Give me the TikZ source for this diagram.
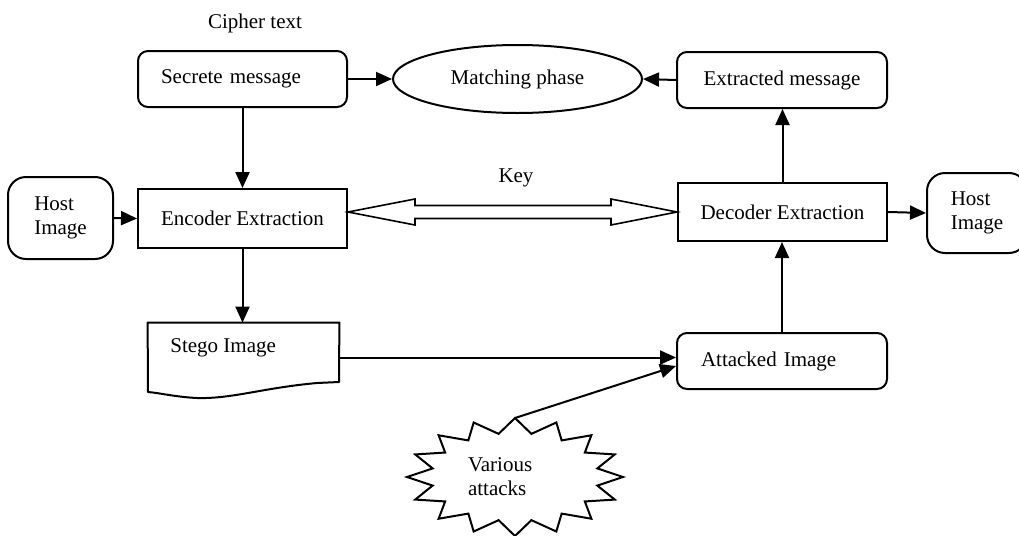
\documentclass[tikz,border=0pt]{standalone}
\usepackage{fontspec}
\setmainfont{Liberation Serif}
\usetikzlibrary{arrows.meta,calc,shapes.geometric}
\tikzset{
  every node/.style={font=\fontsize{10.5pt}{12pt}\selectfont, inner sep=0pt},
  rbox/.style={draw, line width=1pt, rounded corners=5pt, align=center},
  sbox/.style={draw, line width=1pt, align=center},
  hostbox/.style={draw, line width=1pt, rounded corners=9pt, align=left},
  arr/.style={line width=1pt, -{Triangle[length=8pt,width=7pt]}},
  dbl/.style={line width=0.8pt, line join=miter}
}
\begin{document}
\begin{tikzpicture}[x=0.5pt,y=-0.5pt]
\useasboundingbox (0,0) rectangle (1019,536);
\clip (0,0) rectangle (1019,536);
% top row
\node (cipher) at (255,23) {Cipher text};
\node[rbox, minimum width=104.5pt, minimum height=28pt, text width=81.5pt, align=left] (secrete) at (242.5,79) {Secrete message};
\node[draw, line width=1pt, ellipse, minimum width=124.5pt, minimum height=34pt] (matching) at (517.5,79) {Matching phase};
\node[rbox, minimum width=105pt, minimum height=28pt] (extracted) at (782,80) {Extracted message};
% middle row
\node[hostbox, minimum width=52.5pt, minimum height=41pt] (hostL) at (60.5,218) {Host\\Image};
\node[sbox, minimum width=104.5pt, minimum height=29.5pt] (encoder) at (242.5,218.5) {Encoder Extraction};
\node (key) at (516,178) {Key};
\node[sbox, minimum width=104.5pt, minimum height=29pt] (decoder) at (782.5,212) {Decoder Extraction};
\node[hostbox, minimum width=50pt, minimum height=40pt] (hostR) at (977,213) {Host\\Image};
% bottom row
\node[minimum width=95.5pt, minimum height=34.5pt] (stego) at (243.5,357.5) {};
\draw[line width=1pt, line join=round] (stego.north west) -- (stego.north east) -- (339,382) -- (317,383)
  .. controls (262,388) and (232,399) .. (197,398)
  .. controls (176,397) and (160,393) .. (148,392) -- cycle;
\node[anchor=west] (stegolabel) at (170,348) {Stego Image};
\node[rbox, minimum width=105pt, minimum height=28pt, text width=81pt, align=left] (attacked) at (782,361) {Attacked Image};
% starburst
\coordinate (vac) at (515,477);
\draw[line width=1pt, line join=miter] ($(vac)+(90:108 and 59)$)
  \foreach \i in {0,...,15} { -- ($(vac)+({101.25+22.5*\i}:84 and 44)$) -- ($(vac)+({112.5+22.5*\i}:108 and 59)$) } -- cycle;
\node[text width=47pt, align=left, anchor=center] (va) at (515,477) {Various\\attacks};
\coordinate (vatop) at ($(vac)+(0,-59)$);
% connectors
\draw[arr] (secrete.east) -- (matching.west);
\draw[arr] (extracted.west) -- (matching.east);
\draw[arr] (secrete.south) -- (encoder.north);
\draw[arr] (hostL.east) -- (encoder.west);
\draw[arr] (encoder.south) -- (encoder.south |- stego.north);
\draw[arr] (stego.east) -- (stego.east -| attacked.west);
\draw[arr] (vatop) -- ($(attacked.west)+(0,5)$);
\draw[arr] (attacked.north) -- (attacked.north |- decoder.south);
\draw[arr] (decoder.north) -- (decoder.north |- extracted.south);
\draw[arr] (decoder.east) -- (hostR.west);
% double arrow (Key)
\coordinate (L) at (encoder.east |- decoder.west);
\coordinate (R) at (decoder.west);
\draw[dbl] (L) -- ($(L)+(67,-13)$) -- ($(L)+(67,-6.5)$) -- ($(R)+(-66,-6.5)$) -- ($(R)+(-66,-13)$) -- (R)
  -- ($(R)+(-66,13)$) -- ($(R)+(-66,6.5)$) -- ($(L)+(67,6.5)$) -- ($(L)+(67,13)$) -- cycle;
\end{tikzpicture}
\end{document}
